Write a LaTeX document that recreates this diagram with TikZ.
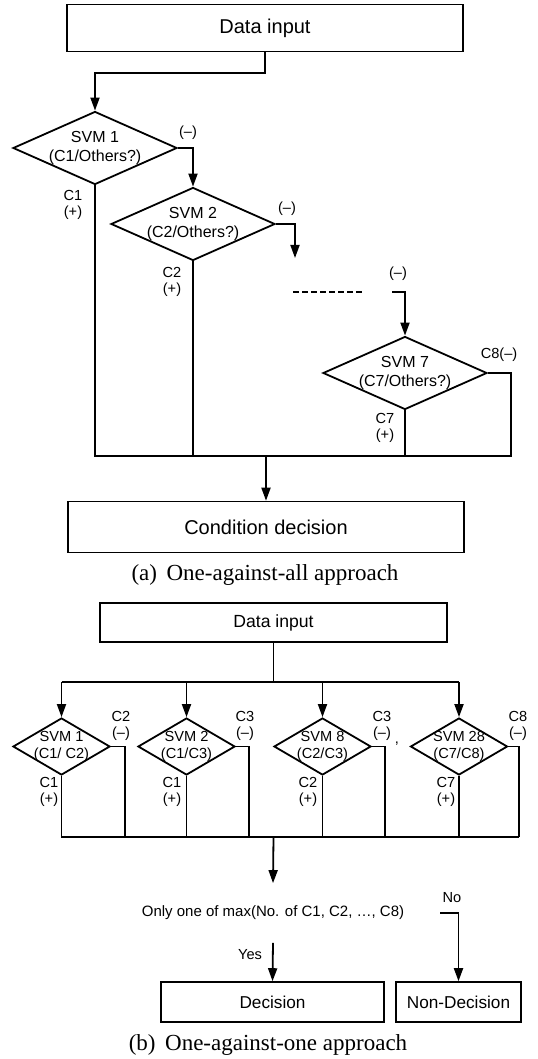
\documentclass[tikz,border=0pt]{standalone}
\usepackage{fontspec}
\setmainfont{Liberation Sans}
\newfontfamily\capfont{Liberation Serif}
\usetikzlibrary{shapes.geometric,arrows.meta}

\begin{document}
\begin{tikzpicture}[x=0.5pt, y=-0.5pt, line width=0.9pt,
    >={Triangle[length=6.5pt,width=4.5pt]},
    box/.style={draw, rectangle, inner sep=0pt, line width=0.8pt},
    svm/.style={draw, diamond, inner sep=0pt, minimum width=82pt, minimum height=36.5pt},
    svmb/.style={draw, diamond, inner sep=0pt, minimum width=48.5pt, minimum height=28.5pt},
    svmtext/.style={align=center, inner sep=0pt, font=\fontsize{8}{9.5}\selectfont},
    svmbtext/.style={align=center, inner sep=0pt, font=\fontsize{7.3}{8.3}\selectfont},
    lbl/.style={align=center, inner sep=0pt, font=\fontsize{7.3}{8}\selectfont},
    caption/.style={inner sep=0pt, font=\capfont\fontsize{11.5}{13}\selectfont}]

    \useasboundingbox (0,0) rectangle (537,1059);

    % (a) one-against-all
    \node[box, minimum width=198pt, minimum height=23.5pt, font=\fontsize{10}{12}\selectfont] (in1) at (265,28) {Data input};
    \node[svm, label={[svmtext]center:SVM 1\\(C1/Others?)}] (s1) at (95,148) {};
    \node[svm, label={[svmtext]center:SVM 2\\(C2/Others?)}] (s2) at (193,224) {};
    \node[svm, label={[svmtext]center:SVM 7\\(C7/Others?)}] (s7) at (405,373) {};
    \node[box, minimum width=198pt, minimum height=25.5pt, font=\fontsize{10}{12}\selectfont] (cd) at (266,527) {Condition decision};
    \node[caption] (capa) at (265,575) {(a)\, One-against-all approach};

    \coordinate (s2end) at (295,258);
    \coordinate (dotl) at (293,292);
    \coordinate (dotr) at (365,292);
    \coordinate (s7start) at (392,292);
    \coordinate (busa) at (511,456);

    \node[lbl] (s1neg) at (188,133) {(--)};
    \node[lbl] (s1pos) at (73,205) {C1\\(+)};
    \node[lbl] (s2neg) at (287,209) {(--)};
    \node[lbl] (s2pos) at (172,282) {C2\\(+)};
    \node[lbl] (s7top) at (398,274) {(--)};
    \node[lbl] (s7neg) at (499,355) {C8(--)};
    \node[lbl] (s7pos) at (385,428) {C7\\(+)};

    \draw [->] (in1.south) -- ++(0,21) -| (s1.north);
    \draw [->] (s1.east) -| (s2.north);
    \draw [->] (s2.east) -| (s2end);
    \draw [dash pattern=on 3pt off 1.5pt] (dotl) -- (dotr);
    \draw [->] (s7start) -| (s7.north);
    \draw (s1.south) |- (busa) |- (s7.east);
    \draw (s2.south) -- (s2.south |- busa);
    \draw (s7.south) -- (s7.south |- busa);
    \draw [->] (cd.north |- busa) -- (cd.north);

    % (b) one-against-one
    \node[box, minimum width=173.5pt, minimum height=19.5pt, font=\fontsize{8.8}{10}\selectfont] (in2) at (273.5,622.5) {Data input};
    \node[svmb, label={[svmbtext]center:SVM 1\\(C1/ C2)}] (t1) at (61.5,746.5) {};
    \node[svmb, label={[svmbtext]center:SVM 2\\(C1/C3)}] (t2) at (186.5,746.5) {};
    \node[svmb, label={[svmbtext]center:SVM 8\\(C2/C3)}] (t3) at (322.5,746.5) {};
    \node[svmb, label={[svmbtext]center:SVM 28\\(C7/C8)}] (t4) at (459,746.5) {};
    \node[lbl] (gap) at (397,744) {,};

    \coordinate (bust) at (0,682);
    \coordinate (busb) at (519,837);

    \node[lbl] (t1neg) at (121,726) {C2\\(--)};
    \node[lbl] (t2neg) at (245,726) {C3\\(--)};
    \node[lbl] (t3neg) at (382,726) {C3\\(--)};
    \node[lbl] (t4neg) at (518,726) {C8\\(--)};
    \node[lbl] (t1pos) at (49,792) {C1\\(+)};
    \node[lbl] (t2pos) at (172,792) {C1\\(+)};
    \node[lbl] (t3pos) at (308,792) {C2\\(+)};
    \node[lbl] (t4pos) at (446,792) {C7\\(+)};

    \node[inner xsep=0pt, inner ysep=11pt, font=\fontsize{7.5}{9}\selectfont] (q) at (273,913) {Only one of max(No. of C1, C2, \dots, C8)};
    \coordinate (nostart) at (440,913);
    \node[lbl] (yes) at (250,955) {Yes};
    \node[lbl] (no) at (452,898) {No};
    \node[box, minimum width=111.5pt, minimum height=20pt, font=\fontsize{8.6}{10}\selectfont] (dec) at (272.5,1002) {Decision};
    \node[box, minimum width=62.5pt, minimum height=20pt, font=\fontsize{8.6}{10}\selectfont] (nd) at (458.5,1002) {Non-Decision};
    \node[caption] (capb) at (268,1045) {(b)\, One-against-one approach};

    \draw (in2.south) -- (in2.south |- bust);
    \draw (t1.north |- bust) -- (t4.north |- bust);
    \draw [->] (t1.north |- bust) -- (t1.north);
    \draw [->] (t2.north |- bust) -- (t2.north);
    \draw [->] (t3.north |- bust) -- (t3.north);
    \draw [->] (t4.north |- bust) -- (t4.north);
    \draw (t1.east) -| ([xshift=7pt]t1.east |- busb);
    \draw (t2.east) -| ([xshift=6.5pt]t2.east |- busb);
    \draw (t3.east) -| ([xshift=6.5pt]t3.east |- busb);
    \draw (t4.east) -| (busb);
    \draw (t1.south) |- (busb);
    \draw (t2.south) -- (t2.south |- busb);
    \draw (t3.south) -- (t3.south |- busb);
    \draw (t4.south) -- (t4.south |- busb);
    \draw [->] (in2.south |- busb) -- (q.north);
    \draw [->] (q.south) -- (dec.north);
    \draw [->] (nostart) -| (nd.north);

\end{tikzpicture}
\end{document}
